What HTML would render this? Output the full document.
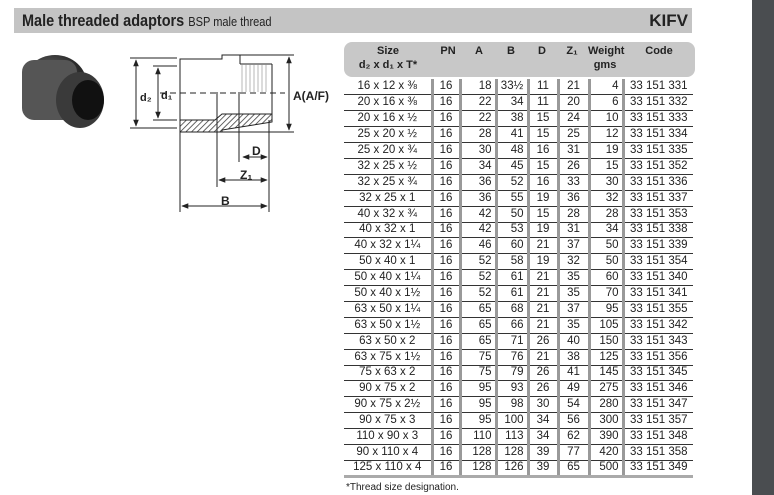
<!DOCTYPE html>
<html><head><style>
body{margin:0;width:774px;height:495px;background:#fff;position:relative;overflow:hidden;font-family:"Liberation Sans",sans-serif;color:#222}
.hdr{position:absolute;left:14px;top:8px;width:678px;height:25px;background:#c4c4c4}
.hdr .t{position:absolute;left:8px;top:3px;font-size:17px;font-weight:bold;transform:scaleX(.85);transform-origin:left;white-space:nowrap}
.hdr .t span{font-weight:normal;font-size:13px}
.hdr .k{position:absolute;right:4px;top:3px;font-size:17px;font-weight:bold}
.side{position:absolute;left:752px;top:0;width:22px;height:495px;background:#4a4d50}
.th{position:absolute;left:344px;top:42px;width:351px;height:35px;background:#c8c8c8;border-radius:8px}
.th div{position:absolute;top:2px;font-size:11px;font-weight:bold;text-align:center;line-height:14px}
table{position:absolute;left:344px;top:79px;border-collapse:collapse;font-size:11.5px;table-layout:fixed}
tr{height:15.9px}
td{padding:0 3px;border-bottom:1px solid #333;border-left:3px solid #999;text-align:center;white-space:nowrap;line-height:13px;overflow:hidden}
td:first-child{border-left:none}
td.r{text-align:right}
tr:last-child td{border-bottom:3px solid #aaa}
.ft{position:absolute;left:346px;top:482px;font-size:10px}
</style></head><body>
<div class="hdr"><div class="t">Male threaded adaptors <span>BSP male thread</span></div><div class="k">KIFV</div></div>
<div class="side"></div>
<svg style="position:absolute;left:0;top:40px" width="340" height="180">
<defs><pattern id="h" width="4" height="4" patternUnits="userSpaceOnUse" patternTransform="rotate(45)"><line x1="0" y1="0" x2="0" y2="4" stroke="#333" stroke-width="1.5"/></pattern>
<marker id="a" viewBox="0 0 10 10" refX="9" refY="5" markerWidth="7" markerHeight="7" orient="auto-start-reverse"><path d="M0,1 L10,5 L0,9 z" fill="#222"/></marker>
<radialGradient id="g" cx="40%" cy="40%"><stop offset="0" stop-color="#777"/><stop offset="1" stop-color="#2a2a2a"/></radialGradient></defs>
<ellipse cx="55" cy="45" rx="32" ry="30" fill="url(#g)"/>
<rect x="22" y="20" width="55" height="60" rx="12" fill="#555"/>
<ellipse cx="80" cy="60" rx="24" ry="28" fill="#3a3a3a"/>
<ellipse cx="88" cy="60" rx="16" ry="20" fill="#111"/>
<g stroke="#222" fill="none" stroke-width="1">
<line x1="130" y1="18" x2="177" y2="18"/><line x1="130" y1="88" x2="177" y2="88"/>
<line x1="153" y1="26" x2="177" y2="26"/><line x1="153" y1="80" x2="177" y2="80"/>
<line x1="136" y1="20" x2="136" y2="86" marker-start="url(#a)" marker-end="url(#a)"/>
<line x1="158" y1="28" x2="158" y2="78" marker-start="url(#a)" marker-end="url(#a)"/>
<line x1="240" y1="15" x2="294" y2="15"/><line x1="222" y1="92" x2="294" y2="92"/>
<line x1="289" y1="17" x2="289" y2="90" marker-start="url(#a)" marker-end="url(#a)"/>
<polyline points="180,80 180,19 222,19 222,15 240,15 240,24"/>
<line x1="240" y1="24" x2="272" y2="24"/><line x1="272" y1="24" x2="272" y2="82"/>
<line x1="160" y1="53" x2="285" y2="53" stroke-dasharray="6,4"/>
<line x1="217" y1="52" x2="217" y2="147"/><line x1="239" y1="52" x2="239" y2="122"/>
<line x1="180" y1="90" x2="180" y2="172"/><line x1="269" y1="80" x2="269" y2="172"/>
<line x1="243" y1="117" x2="267" y2="117" marker-start="url(#a)" marker-end="url(#a)"/>
<line x1="219" y1="140" x2="267" y2="140" marker-start="url(#a)" marker-end="url(#a)"/>
<line x1="182" y1="166" x2="267" y2="166" marker-start="url(#a)" marker-end="url(#a)"/>
<path d="M242,24 v28 M246,24 v28 M250,24 v28 M254,24 v28 M258,24 v28 M262,24 v28 M266,24 v28" stroke="#888" stroke-width=".6"/>
</g>
<polygon points="180,80 215,80 222,74 272,74 272,82 222,90 222,92 180,92" fill="url(#h)" stroke="#222"/>
<g fill="#222" font-weight="bold" font-family="Liberation Sans">
<text x="140" y="61" font-size="11">d₂</text><text x="161" y="59" font-size="11">d₁</text>
<text x="293" y="60" font-size="12">A(A/F)</text>
<text x="252" y="115" font-size="12">D</text><text x="240" y="139" font-size="12">Z₁</text>
<text x="221" y="165" font-size="12">B</text></g>
</svg>
<div class="th">
<div style="left:0;width:88px">Size<br>d₂ x d₁ x T*</div>
<div style="left:90px;width:28px">PN</div><div style="left:120px;width:30px">A</div>
<div style="left:152px;width:30px">B</div><div style="left:184px;width:28px">D</div>
<div style="left:214px;width:28px">Z₁</div><div style="left:244px;width:34px">Weight<br>gms</div>
<div style="left:280px;width:70px">Code</div></div>
<table>
<colgroup><col style="width:88px"><col style="width:28px"><col style="width:36px"><col style="width:32px"><col style="width:30px"><col style="width:31px"><col style="width:34px"><col style="width:70px"></colgroup>
<tr><td>16 x 12 x ⅜</td><td>16</td><td class="r">18</td><td>33½</td><td>11</td><td>21</td><td class="r">4</td><td>33 151 331</td></tr>
<tr><td>20 x 16 x ⅜</td><td>16</td><td class="r">22</td><td class="r">34</td><td>11</td><td>20</td><td class="r">6</td><td>33 151 332</td></tr>
<tr><td>20 x 16 x ½</td><td>16</td><td class="r">22</td><td class="r">38</td><td>15</td><td>24</td><td class="r">10</td><td>33 151 333</td></tr>
<tr><td>25 x 20 x ½</td><td>16</td><td class="r">28</td><td class="r">41</td><td>15</td><td>25</td><td class="r">12</td><td>33 151 334</td></tr>
<tr><td>25 x 20 x ¾</td><td>16</td><td class="r">30</td><td class="r">48</td><td>16</td><td>31</td><td class="r">19</td><td>33 151 335</td></tr>
<tr><td>32 x 25 x ½</td><td>16</td><td class="r">34</td><td class="r">45</td><td>15</td><td>26</td><td class="r">15</td><td>33 151 352</td></tr>
<tr><td>32 x 25 x ¾</td><td>16</td><td class="r">36</td><td class="r">52</td><td>16</td><td>33</td><td class="r">30</td><td>33 151 336</td></tr>
<tr><td>32 x 25 x 1</td><td>16</td><td class="r">36</td><td class="r">55</td><td>19</td><td>36</td><td class="r">32</td><td>33 151 337</td></tr>
<tr><td>40 x 32 x ¾</td><td>16</td><td class="r">42</td><td class="r">50</td><td>15</td><td>28</td><td class="r">28</td><td>33 151 353</td></tr>
<tr><td>40 x 32 x 1</td><td>16</td><td class="r">42</td><td class="r">53</td><td>19</td><td>31</td><td class="r">34</td><td>33 151 338</td></tr>
<tr><td>40 x 32 x 1¼</td><td>16</td><td class="r">46</td><td class="r">60</td><td>21</td><td>37</td><td class="r">50</td><td>33 151 339</td></tr>
<tr><td>50 x 40 x 1</td><td>16</td><td class="r">52</td><td class="r">58</td><td>19</td><td>32</td><td class="r">50</td><td>33 151 354</td></tr>
<tr><td>50 x 40 x 1¼</td><td>16</td><td class="r">52</td><td class="r">61</td><td>21</td><td>35</td><td class="r">60</td><td>33 151 340</td></tr>
<tr><td>50 x 40 x 1½</td><td>16</td><td class="r">52</td><td class="r">61</td><td>21</td><td>35</td><td class="r">70</td><td>33 151 341</td></tr>
<tr><td>63 x 50 x 1¼</td><td>16</td><td class="r">65</td><td class="r">68</td><td>21</td><td>37</td><td class="r">95</td><td>33 151 355</td></tr>
<tr><td>63 x 50 x 1½</td><td>16</td><td class="r">65</td><td class="r">66</td><td>21</td><td>35</td><td class="r">105</td><td>33 151 342</td></tr>
<tr><td>63 x 50 x 2</td><td>16</td><td class="r">65</td><td class="r">71</td><td>26</td><td>40</td><td class="r">150</td><td>33 151 343</td></tr>
<tr><td>63 x 75 x 1½</td><td>16</td><td class="r">75</td><td class="r">76</td><td>21</td><td>38</td><td class="r">125</td><td>33 151 356</td></tr>
<tr><td>75 x 63 x 2</td><td>16</td><td class="r">75</td><td class="r">79</td><td>26</td><td>41</td><td class="r">145</td><td>33 151 345</td></tr>
<tr><td>90 x 75 x 2</td><td>16</td><td class="r">95</td><td class="r">93</td><td>26</td><td>49</td><td class="r">275</td><td>33 151 346</td></tr>
<tr><td>90 x 75 x 2½</td><td>16</td><td class="r">95</td><td class="r">98</td><td>30</td><td>54</td><td class="r">280</td><td>33 151 347</td></tr>
<tr><td>90 x 75 x 3</td><td>16</td><td class="r">95</td><td class="r">100</td><td>34</td><td>56</td><td class="r">300</td><td>33 151 357</td></tr>
<tr><td>110 x 90 x 3</td><td>16</td><td class="r">110</td><td class="r">113</td><td>34</td><td>62</td><td class="r">390</td><td>33 151 348</td></tr>
<tr><td>90 x 110 x 4</td><td>16</td><td class="r">128</td><td class="r">128</td><td>39</td><td>77</td><td class="r">420</td><td>33 151 358</td></tr>
<tr><td>125 x 110 x 4</td><td>16</td><td class="r">128</td><td class="r">126</td><td>39</td><td>65</td><td class="r">500</td><td>33 151 349</td></tr>
</table>
<div class="ft">*Thread size designation.</div>
</body></html>
